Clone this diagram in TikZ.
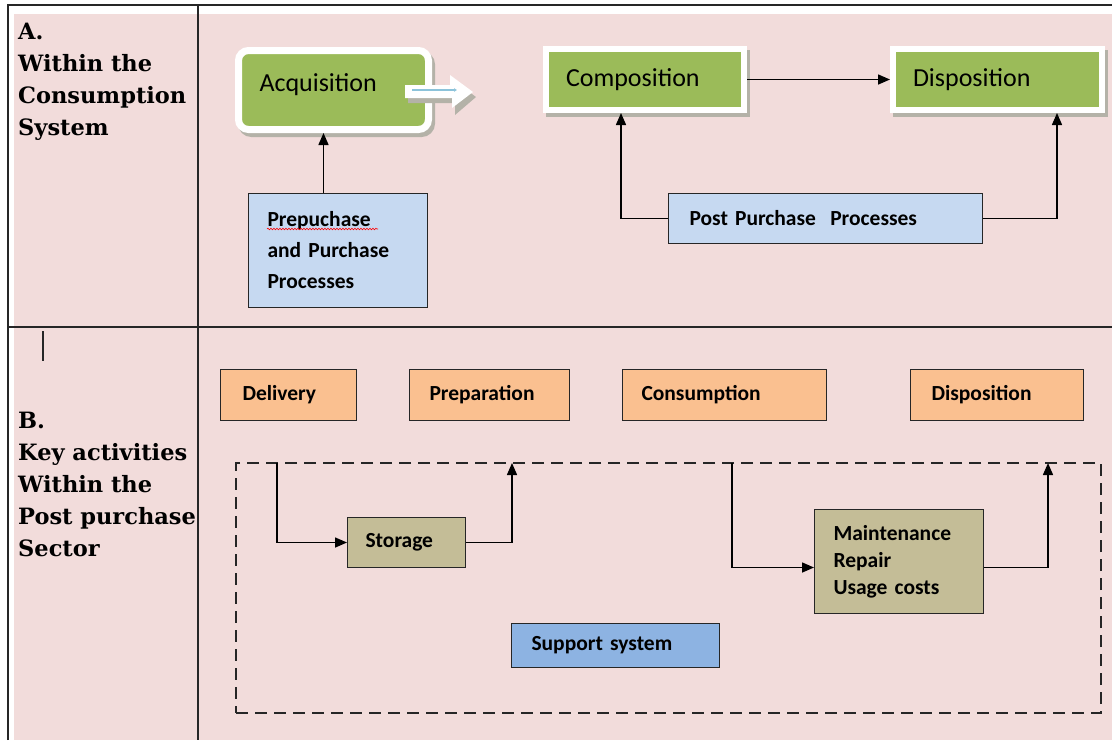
\documentclass[tikz,border=0pt]{standalone}
\usepackage{fontspec}
\usepackage{tikz}
\usetikzlibrary{arrows.meta,decorations.pathmorphing}
\newfontfamily\calib{Carlito}
\newfontfamily\headfont{DejaVu Serif Bold}
\definecolor{bgpink}{HTML}{F2DCDB}
\definecolor{stagegreen}{HTML}{9BBB59}
\definecolor{procblue}{HTML}{C6D9F1}
\definecolor{actorange}{HTML}{FAC090}
\definecolor{subtan}{HTML}{C4BD97}
\definecolor{supblue}{HTML}{8DB3E2}
\definecolor{shadowgrey}{HTML}{B4B2A8}
\definecolor{flowblue}{HTML}{8CC3DA}

\begin{document}
\begin{tikzpicture}[x=1pt,y=-1pt,
	frameline/.style={draw=black!85,line width=1.3pt},
	heading/.style={anchor=north west,inner sep=0pt,align=left,font=\headfont\fontsize{22.5}{32}\selectfont},
	stagebox/.style={anchor=north west,fill=stagegreen,draw=white,line width=6pt,align=left,inner xsep=20pt,inner ysep=0pt,
		font=\calib\fontsize{26}{30}\selectfont,
		preaction={fill=shadowgrey,draw=shadowgrey,transform canvas={shift={(3pt,-4pt)}}}},
	procbox/.style={anchor=north west,fill=#1,draw=black!85,line width=1pt,align=left,inner ysep=0pt,
		font=\calib\bfseries\fontsize{21.5}{31}\selectfont},
	flow/.style={draw=black,line width=1.5pt,-{Triangle[length=12pt,width=10pt]}}
	]
	\useasboundingbox (0,0) rectangle (1112,740);
	\fill[white] (0,0) rectangle (1112,740);
	\fill[bgpink] (14,14) rectangle (1112,740);
	\draw[frameline] (8,740) -- (8,5) -- (1112,5);
	\draw[frameline] (198,5) -- (198,740);
	\draw[frameline] (8,327) -- (1112,327);
	\draw[frameline] (43,331) -- (43,361);

	\node[heading] (headA) at (18,23) {A.\\Within the\\Consumption\\System};
	\node[heading] (headB) at (18,412) {B.\\Key activities\\Within the\\Post purchase\\Sector};

	\node[stagebox,rounded corners=10pt,line width=7pt,inner xsep=21pt,text width=148pt,text depth=14pt,minimum height=79pt] (acq) at (235,47) {Acquisition};
	\node[stagebox,text width=158pt,minimum height=61pt] (comp) at (543,46) {Composition};
	\node[stagebox,text width=169pt,minimum height=61pt] (disp) at (890,46) {Disposition};

	\fill[shadowgrey] (408,90) -- (453,90) -- (453,80) -- (476,97) -- (455,115) -- (455,103) -- (408,103) -- cycle;
	\fill[white] (405,85) -- (450,85) -- (450,75) -- (473,92) -- (452,108) -- (452,98) -- (405,98) -- cycle;
	\draw[flowblue,line width=1.5pt,-{Latex[length=3pt,width=4pt]}] (412,90) -- (457,90);

	\node[procbox=procblue,inner xsep=19pt,text width=141pt,minimum height=114pt] (prep) at (248,193) {Prepuchase\\and Purchase\\Processes};
	\draw[red,line width=0.6pt,decorate,decoration={snake,amplitude=0.8pt,segment length=3pt}] (267,229) -- (378,229);
	\node[procbox=procblue,inner xsep=21pt,text width=272pt,minimum height=50pt] (ppp) at (668,193) {Post Purchase~ Processes};

	\draw[flow] ([xshift=-14.5pt]prep.north) -- ([xshift=-14.5pt]prep.north |- acq.south);
	\draw[flow] (comp.east) -- (disp.west);
	\draw[flow] (ppp.west) -| ([xshift=-24pt]comp.south);
	\draw[flow] (ppp.east) -| ([xshift=59.5pt]disp.south);

	\node[procbox=actorange,inner xsep=22pt,text width=92pt,minimum height=51pt] (deliv) at (220,369) {Delivery};
	\node[procbox=actorange,inner xsep=20pt,text width=120pt,minimum height=51pt] (prepa) at (409,369) {Preparation};
	\node[procbox=actorange,inner xsep=19pt,text width=166pt,minimum height=51pt] (cons) at (622,369) {Consumption};
	\node[procbox=actorange,inner xsep=21pt,text width=131pt,minimum height=51pt] (dispo) at (910,369) {Disposition};

	\node[anchor=north west,draw=black!85,line width=1.3pt,dash pattern=on 12pt off 7pt,inner sep=0pt,outer sep=0pt,minimum width=865pt,minimum height=250pt] (frame) at (236,463) {};
	\coordinate (stin) at (277,463);
	\coordinate (stout) at (512,463);
	\coordinate (mtin) at (732,463);
	\coordinate (mtout) at (1048,463);

	\node[procbox=subtan,inner xsep=18pt,text width=82pt,minimum height=50pt] (stor) at (347,517) {Storage};
	\node[procbox=subtan,inner xsep=19pt,text width=131pt,minimum height=104pt,font=\calib\bfseries\fontsize{21.5}{27}\selectfont] (mnt) at (814,509) {Maintenance\\Repair\\Usage costs};
	\node[procbox=supblue,inner xsep=20pt,text width=168pt,minimum height=44pt] (supp) at (511,623) {Support system};

	\draw[flow] (stin) |- (stor.west);
	\draw[flow] (stor.east) -| (stout);
	\draw[flow] (mtin) |- ([yshift=-6pt]mnt.west);
	\draw[flow] ([yshift=-6pt]mnt.east) -| (mtout);
\end{tikzpicture}
\end{document}
